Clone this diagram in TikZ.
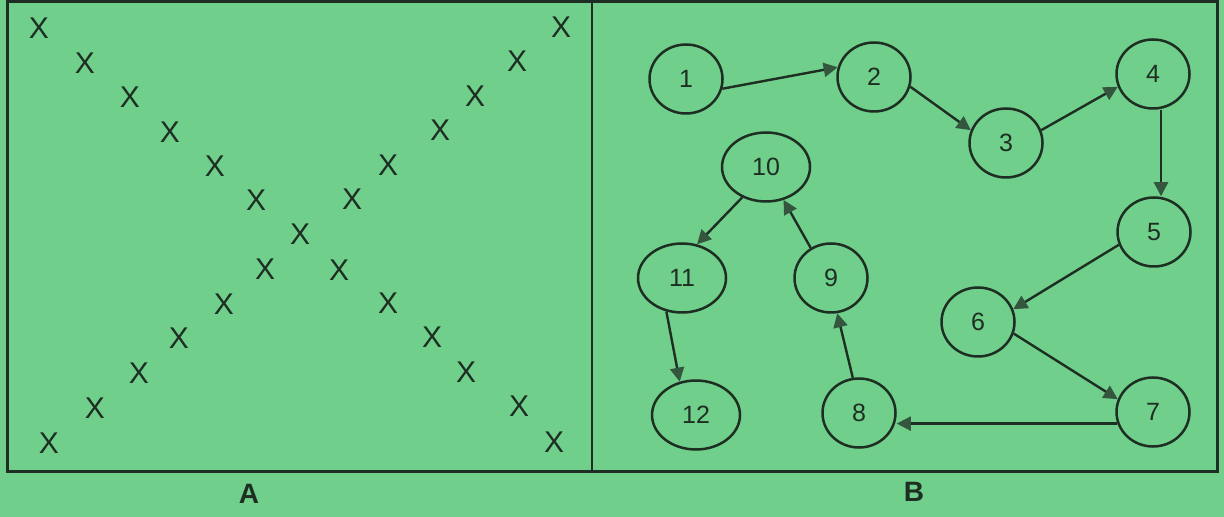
\documentclass[tikz,border=0pt]{standalone}
\usepackage{fontspec}
\setmainfont{Liberation Sans}
\usetikzlibrary{arrows.meta, positioning, shapes.geometric}
\definecolor{paper}{HTML}{6FCF8B}
\definecolor{ink}{HTML}{1E2E23}
\definecolor{tipink}{HTML}{34553E}
\tikzset{
    state/.style={draw=ink, ellipse, line width=1.25pt, minimum width=36.5pt, minimum height=34.5pt, inner sep=0pt, text=ink, font=\fontsize{12.5}{14}\selectfont},
    wide/.style={state, minimum width=44pt},
    link/.style={-{Triangle[length=7pt, width=7pt, color=tipink]}, draw=ink, line width=1.2pt},
    cross/.style={inner sep=0pt, text=ink, font=\fontsize{15}{17}\selectfont},
    panel/.style={text=ink, font=\bfseries\fontsize{14}{16}\selectfont}
}

\begin{document}
\begin{tikzpicture}[x=0.5pt, y=-0.5pt]
    \fill[paper] (0,0) rectangle (1224,517);
    \useasboundingbox (0,0) rectangle (1224,517);
    % frame of both panels
    \draw[ink, line width=1.5pt] (7,1.5) rectangle (1217,471);
    \draw[ink, line width=1.2pt] (592,1.5) -- (592,471);
    \node[panel] (labA) at (249,494) {A};
    \node[panel] (labB) at (914,492) {B};
    % panel A: the crosses
    \foreach \px/\py [count=\i] in {39/28, 85/63, 130/97, 170/132, 215/166, 256/200,
        300/234, 265/269, 224/304, 179/338, 139/373, 95/408, 49/443,
        561/27, 517/61, 475/96, 440/130, 388/165, 352/199,
        339/270, 388/303, 432/337, 466/372, 519/406, 554/442}
        \node[cross] (x\i) at (\px,\py) {X};
    % panel B: the path
    \node[state] (n1) at (686,79) {1};
    \node[state] (n2) at (874,77) {2};
    \node[state] (n3) at (1006,143) {3};
    \node[state] (n4) at (1153,74) {4};
    \node[state] (n5) at (1154,232) {5};
    \node[state] (n6) at (978,322) {6};
    \node[state] (n7) at (1153,412) {7};
    \node[state] (n8) at (859,413) {8};
    \node[state] (n9) at (831,278) {9};
    \node[wide] (n10) at (766,167) {10};
    \node[wide] (n11) at (682,278) {11};
    \node[wide] (n12) at (696,415) {12};
    \draw[link] (n1.-15) -- (n2.165);
    \draw[link] (n2.-15) -- (n3.160);
    \draw[link] (n3.20) -- (n4.200);
    \draw[link] ([xshift=4pt]n4.south) -- ([xshift=4pt]n4.south |- n5.north);
    \draw[link] (n5.200) -- (n6.20);
    \draw[link] (n6.-18) -- (n7.160);
    \draw[link] (n7.198) -- (n7.198 -| n8.east);
    \draw[link] (n8.100) -- (n9.-80);
    \draw[link] (n9.124) -- (n10.-62);
    \draw[link] (n10.232) -- (n11.66);
    \draw[link] (n11.245) -- (n12.116);
\end{tikzpicture}
\end{document}
